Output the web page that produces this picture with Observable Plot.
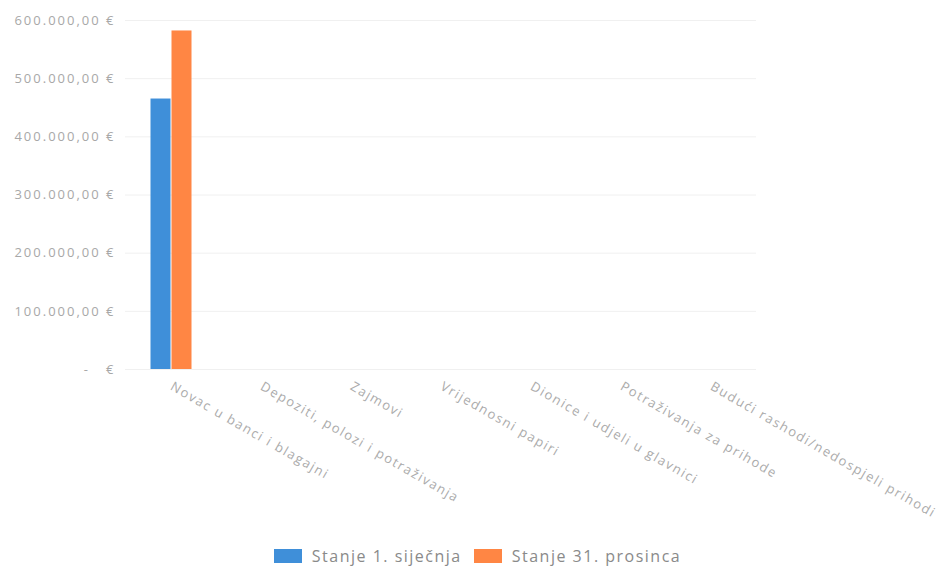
<!DOCTYPE html>
<html>
<head>
<meta charset="utf-8">
<script src="https://cdn.jsdelivr.net/npm/d3@7"></script>
<script src="https://cdn.jsdelivr.net/npm/@observablehq/plot@0.6"></script>
<style>
  html, body { margin: 0; padding: 0; background: #fff; }
  #chart { width: 951px; }
  .legend { display: flex; justify-content: center; align-items: center; gap: 12px;
    font-family: "Open Sans", sans-serif; font-size: 16px; letter-spacing: 1.5px; color: #8a8a8a; margin-top: 15px; margin-left: 4px; }
  .legend span.sw { display: inline-block; width: 28px; height: 14px; margin-right: 10px; vertical-align: middle; }
  .legend .item { display: flex; align-items: center; }
  .xlab text { letter-spacing: 1.6px; }
  .ylab text { letter-spacing: 2px; }
</style>
</head>
<body>
<div id="chart"></div>
<script>
const categories = [
  "Novac u banci i blagajni",
  "Depoziti, polozi i potraživanja",
  "Zajmovi",
  "Vrijednosni papiri",
  "Dionice i udjeli u glavnici",
  "Potraživanja za prihode",
  "Budući rashodi/nedospjeli prihodi"
];
const seriesNames = ["Stanje 1. siječnja", "Stanje 31. prosinca"];
const seriesColors = ["#3f8fd9", "#ff8644"];
const valuesStart = [465000, 0, 0, 0, 0, 0, 0];
const valuesEnd = [582000, 0, 0, 0, 0, 0, 0];
const yTicks = [0, 100000, 200000, 300000, 400000, 500000, 600000];

const fmt = d3.formatLocale({decimal: ",", thousands: ".", grouping: [3], currency: ["", ""]}).format(",.2f");
const yFormat = d => d === 0 ? "-   €" : fmt(d) + " €";

const dataStart = categories.map((c, i) => ({category: c, value: valuesStart[i]}));
const dataEnd = categories.map((c, i) => ({category: c, value: valuesEnd[i]}));

const chart = Plot.plot({
  width: 951,
  height: 530,
  marginTop: 20,
  marginBottom: 161,
  marginLeft: 125,
  marginRight: 195,
  style: {fontFamily: "'Open Sans', sans-serif", fontSize: "13px", background: "#fff"},
  x: {domain: categories, padding: 0, label: null},
  y: {domain: [0, 600000], ticks: yTicks, label: null},
  marks: [
    Plot.gridY(yTicks, {stroke: "#f0f0f0", strokeOpacity: 1}),
    Plot.barY(dataStart, {x: "category", y: "value", fill: seriesColors[0], insetLeft: 24.5, insetRight: 45.5}),
    Plot.barY(dataEnd, {x: "category", y: "value", fill: seriesColors[1], insetLeft: 45.5, insetRight: 24.5}),
    Plot.axisY(yTicks, {tickSize: 0, tickPadding: 10, tickFormat: yFormat, fill: "#a8a8a8", fontSize: 13, label: null, className: "ylab"}),
    Plot.axisX({tickSize: 0, tickPadding: 16, tickRotate: 30, fill: "#ababab", fontSize: 13, label: null, className: "xlab"})
  ]
});
document.getElementById("chart").appendChild(chart);

const legend = document.createElement("div");
legend.className = "legend";
seriesNames.forEach((n, i) => {
  const item = document.createElement("div");
  item.className = "item";
  const sw = document.createElement("span");
  sw.className = "sw";
  sw.style.background = seriesColors[i];
  item.appendChild(sw);
  item.appendChild(document.createTextNode(n));
  legend.appendChild(item);
});
document.getElementById("chart").appendChild(legend);
</script>
</body>
</html>
